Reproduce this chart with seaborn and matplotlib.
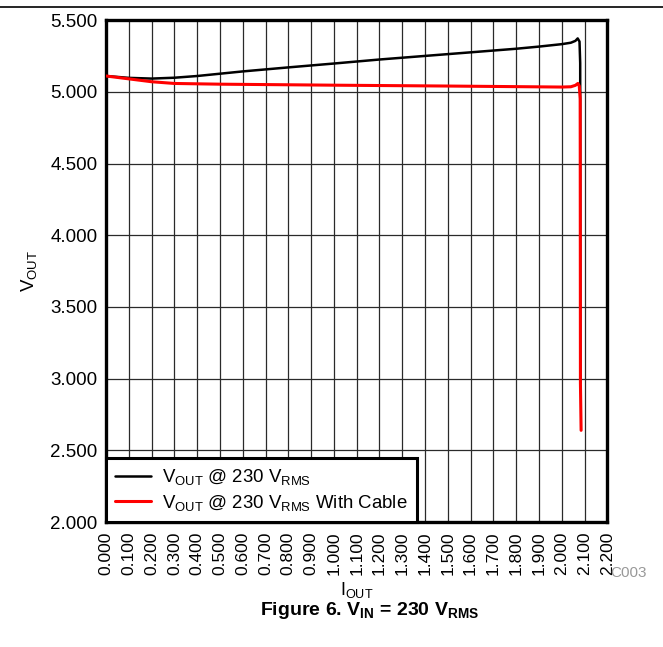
import pandas as pd
import matplotlib.pyplot as plt
import matplotlib.lines as mlines
import seaborn as sns

# Output current (A) and output voltage (V)
i_out_230 = [0.0, 0.1, 0.2, 0.3, 0.4, 0.6, 0.8, 1.0, 1.2, 1.4, 1.6, 1.8, 1.9, 2.0,
             2.04, 2.06, 2.07, 2.078, 2.081, 2.082]
v_out_230 = [5.110, 5.097, 5.092, 5.098, 5.110, 5.142, 5.170, 5.197, 5.225, 5.250,
             5.275, 5.300, 5.315, 5.332, 5.342, 5.355, 5.372, 5.350, 5.200, 2.970]

i_out_cable = [0.0, 0.1, 0.2, 0.3, 0.5, 1.0, 1.5, 2.0, 2.04, 2.06, 2.071, 2.077,
               2.081, 2.082, 2.085]
v_out_cable = [5.110, 5.090, 5.070, 5.058, 5.053, 5.046, 5.040, 5.033, 5.035,
               5.045, 5.058, 5.040, 4.950, 2.970, 2.640]

series_names = [r"V$_{OUT}$ @ 230 V$_{RMS}$", r"V$_{OUT}$ @ 230 V$_{RMS}$ With Cable"]
series_colors = ["black", "#ff0000"]
x_ticks = [i / 10 for i in range(23)]
y_ticks = [2.0, 2.5, 3.0, 3.5, 4.0, 4.5, 5.0, 5.5]

sns.set_theme(style="white")
plt.rcParams["font.family"] = ["Liberation Sans", "DejaVu Sans"]
plt.rcParams["mathtext.default"] = "regular"
plt.rcParams["text.color"] = "black"
plt.rcParams["axes.labelcolor"] = "black"

df_230 = pd.DataFrame({"I": i_out_230, "V": v_out_230})
df_cable = pd.DataFrame({"I": i_out_cable, "V": v_out_cable})

fig = plt.figure(figsize=(6.63, 6.47), dpi=100)
ax = fig.add_axes([0.160, 0.193, 0.756, 0.776])

sns.lineplot(data=df_230, x="I", y="V", sort=False, estimator=None, ax=ax,
             color=series_colors[0], linewidth=1.8, label=series_names[0], zorder=3)
sns.lineplot(data=df_cable, x="I", y="V", sort=False, estimator=None, ax=ax,
             color=series_colors[1], linewidth=2.2, label=series_names[1], zorder=4)

ax.set_xlim(0, 2.2)
ax.set_ylim(2.0, 5.5)
ax.set_xticks(x_ticks)
ax.set_yticks(y_ticks)
ax.set_xticklabels([f"{t:.3f}" for t in x_ticks], rotation=90, fontsize=12.5)
ax.set_yticklabels([f"{t:.3f}" for t in y_ticks], fontsize=13.5)
ax.tick_params(axis="both", length=0, colors="black")
ax.tick_params(axis="x", pad=7)
ax.tick_params(axis="y", pad=6)
ax.grid(True, color="#2a2a2a", linewidth=0.9)
for s in ax.spines.values():
    s.set_linewidth(2.4)
    s.set_color("black")

ax.set_xlabel(r"I$_{OUT}$", fontsize=13, labelpad=3)
ax.set_ylabel(r"V$_{OUT}$", fontsize=13.5, labelpad=8)

leg = ax.legend(loc="lower left", borderaxespad=0, fancybox=False, framealpha=1,
                edgecolor="black", fontsize=13.4, handlelength=1.9,
                borderpad=0.5, labelspacing=0.3, handletextpad=0.6)
leg.get_frame().set_linewidth(2.2)
for t in leg.get_texts():
    t.set_color("black")

fig.text(0.976, 0.114, "C003", color="#999999", fontsize=11, ha="right", va="center")
fig.text(0.558, 0.057, r"Figure 6. V$_{IN}$ = 230 V$_{RMS}$", fontsize=14,
         fontweight="bold", ha="center", va="center")
fig.add_artist(mlines.Line2D([0, 1], [0.989, 0.989], color="black", linewidth=1.2,
                             transform=fig.transFigure))

fig.savefig("out.png", dpi=100)
